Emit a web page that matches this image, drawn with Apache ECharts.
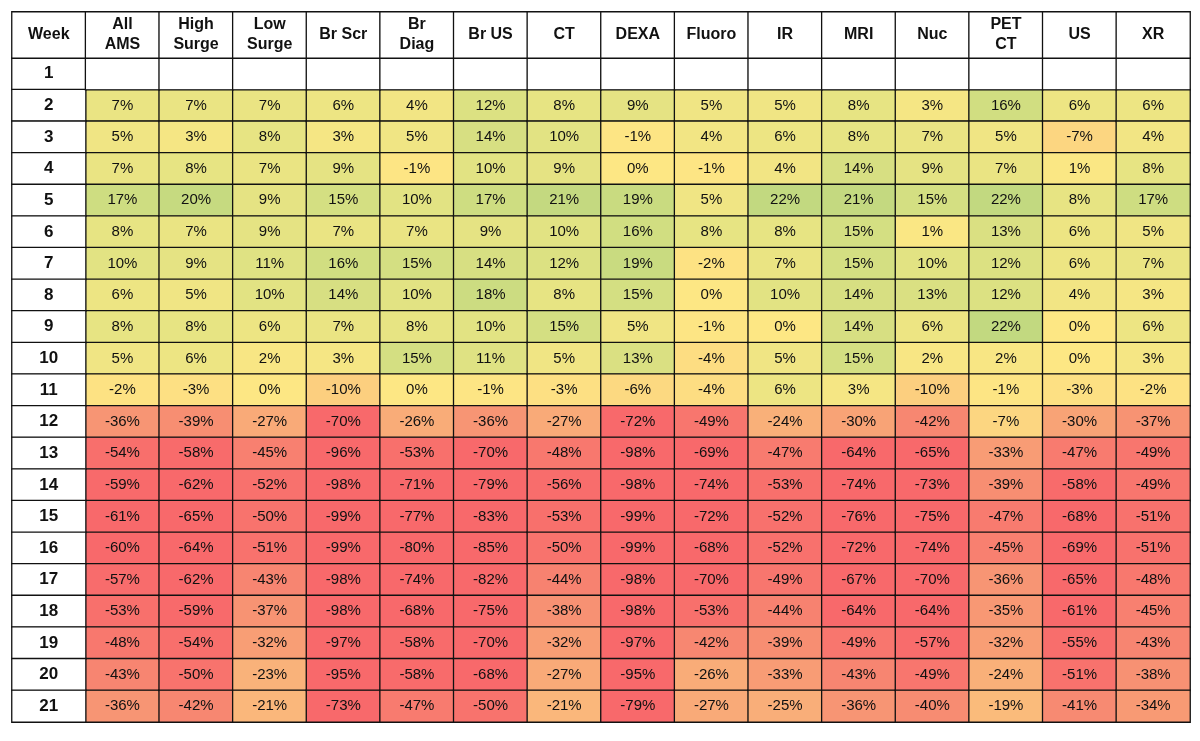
<!DOCTYPE html>
<html><head><meta charset="utf-8">
<script src="https://cdn.jsdelivr.net/npm/echarts@6/dist/echarts.min.js"></script>
<style>html,body{margin:0;padding:0;background:#fff}#c{width:1200px;height:741px}</style>
</head><body><div id="c"></div>
<script>
const headers = ['Week','All\nAMS','High\nSurge','Low\nSurge','Br Scr','Br\nDiag','Br US','CT','DEXA','Fluoro','IR','MRI','Nuc','PET\nCT','US','XR'];
const weeks = ['1','2','3','4','5','6','7','8','9','10','11','12','13','14','15','16','17','18','19','20','21'];
// values for weeks 2..21 (week 1 empty)
const allAMS = [7,5,7,17,8,10,6,8,5,-2,-36,-54,-59,-61,-60,-57,-53,-48,-43,-36];
const highSurge = [7,3,8,20,7,9,5,8,6,-3,-39,-58,-62,-65,-64,-62,-59,-54,-50,-42];
const lowSurge = [7,8,7,9,9,11,10,6,2,0,-27,-45,-52,-50,-51,-43,-37,-32,-23,-21];
const brScr = [6,3,9,15,7,16,14,7,3,-10,-70,-96,-98,-99,-99,-98,-98,-97,-95,-73];
const brDiag = [4,5,-1,10,7,15,10,8,15,0,-26,-53,-71,-77,-80,-74,-68,-58,-58,-47];
const brUS = [12,14,10,17,9,14,18,10,11,-1,-36,-70,-79,-83,-85,-82,-75,-70,-68,-50];
const ct = [8,10,9,21,10,12,8,15,5,-3,-27,-48,-56,-53,-50,-44,-38,-32,-27,-21];
const dexa = [9,-1,0,19,16,19,15,5,13,-6,-72,-98,-98,-99,-99,-98,-98,-97,-95,-79];
const fluoro = [5,4,-1,5,8,-2,0,-1,-4,-4,-49,-69,-74,-72,-68,-70,-53,-42,-26,-27];
const ir = [5,6,4,22,8,7,10,0,5,6,-24,-47,-53,-52,-52,-49,-44,-39,-33,-25];
const mri = [8,8,14,21,15,15,14,14,15,3,-30,-64,-74,-76,-72,-67,-64,-49,-43,-36];
const nuc = [3,7,9,15,1,10,13,6,2,-10,-42,-65,-73,-75,-74,-70,-64,-57,-49,-40];
const petCT = [16,5,7,22,13,12,12,22,2,-1,-7,-33,-39,-47,-45,-36,-35,-32,-24,-19];
const us = [6,-7,1,8,6,6,4,0,0,-3,-30,-47,-58,-68,-69,-65,-61,-55,-51,-41];
const xr = [6,4,8,17,5,7,3,6,3,-2,-37,-49,-49,-51,-51,-48,-45,-43,-38,-34];
const columns = [allAMS,highSurge,lowSurge,brScr,brDiag,brUS,ct,dexa,fluoro,ir,mri,nuc,petCT,us,xr];

const xCats = headers.map((h,i)=>String(i));
const valData = [];
columns.forEach((col,ci)=>col.forEach((v,ri)=>valData.push([ci+1, ri+1, v])));
const whiteData = [];
weeks.forEach((w,ri)=>whiteData.push([0, ri, 0]));
for (let ci=1; ci<headers.length; ci++) whiteData.push([ci, 0, 0]);
const headData = headers.map((h,i)=>[i,0,0]);

const font = '"Liberation Sans", Arial, sans-serif';
const border = {borderColor:'#111', borderWidth:1.3};
const chart = echarts.init(document.getElementById('c'));
chart.setOption({
  animation:false,
  backgroundColor:'#fff',
  grid:[{left:12,right:10,top:12,height:46},{left:12,right:10,top:58,bottom:19}],
  xAxis:[
    {type:'category',data:xCats,gridIndex:0,show:false},
    {type:'category',data:xCats,gridIndex:1,show:false}
  ],
  yAxis:[
    {type:'category',data:['h'],gridIndex:0,show:false},
    {type:'category',data:weeks,gridIndex:1,inverse:true,show:false}
  ],
  visualMap:{type:'continuous',show:false,seriesIndex:0,min:-60,max:30,dimension:2,
    inRange:{color:['#f8696b','#f8736d','#f78c72','#f8a376','#fab97b','#fccf7f','#fde784','#e2e383','#c6da80','#b0d47f']}},
  series:[
    {type:'heatmap',xAxisIndex:1,yAxisIndex:1,data:valData,itemStyle:border,
     label:{show:true,formatter:p=>p.value[2]+'%',fontFamily:font,fontSize:15,color:'#111'}},
    {type:'heatmap',xAxisIndex:1,yAxisIndex:1,data:whiteData,itemStyle:Object.assign({color:'#fff'},border),
     label:{show:true,formatter:p=>p.value[0]===0?weeks[p.value[1]]:'',fontFamily:font,fontSize:17,fontWeight:'bold',color:'#111'}},
    {type:'heatmap',xAxisIndex:0,yAxisIndex:0,data:headData,itemStyle:Object.assign({color:'#fff'},border),
     label:{show:true,formatter:p=>headers[p.value[0]],fontFamily:font,fontSize:16,fontWeight:'bold',color:'#111',lineHeight:20,
       rich:{}}}
  ]
});
</script></body></html>
